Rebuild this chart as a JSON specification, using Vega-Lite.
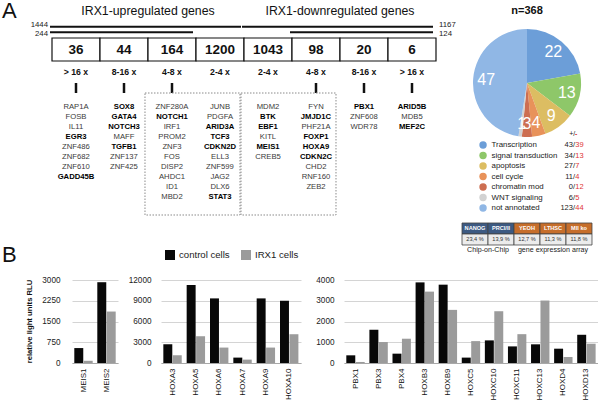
{
"$schema": "https://vega.github.io/schema/vega-lite/v6.json",
"padding": 0,
"background": "white",
"config": {"view": {"stroke": null}, "font": "'Liberation Sans', Arial, sans-serif"},
"datasets": {
 "panels": [{"panel": "A"}, {"panel": "B"}],
 "groups": [{"title": "IRX1-upregulated genes", "at": 2}, {"title": "IRX1-downregulated genes", "at": 6}],
 "lines": [
  {"label": "1444", "from": 0, "to": 4, "level": "all", "side": "left"},
  {"label": "244", "from": 0, "to": 3, "level": "sub", "side": "left"},
  {"label": "1167", "from": 4, "to": 8, "level": "all", "side": "right"},
  {"label": "124", "from": 5, "to": 8, "level": "sub", "side": "right"}],
 "bins": [
  {"bin": "up>16", "n": "36", "fold": "> 16 x"}, {"bin": "up8-16", "n": "44", "fold": "8-16 x"},
  {"bin": "up4-8", "n": "164", "fold": "4-8 x"}, {"bin": "up2-4", "n": "1200", "fold": "2-4 x"},
  {"bin": "down2-4", "n": "1043", "fold": "2-4 x"}, {"bin": "down4-8", "n": "98", "fold": "4-8 x"},
  {"bin": "down8-16", "n": "20", "fold": "8-16 x"}, {"bin": "down>16", "n": "6", "fold": "> 16 x"}],
 "boxes": [{"from": 2, "to": 4}, {"from": 4, "to": 6}],
 "genes": [
  {"bin": "up>16", "rank": 1, "gene": "RAP1A", "bold": false}, {"bin": "up>16", "rank": 2, "gene": "FOSB", "bold": false},
  {"bin": "up>16", "rank": 3, "gene": "IL11", "bold": false}, {"bin": "up>16", "rank": 4, "gene": "EGR3", "bold": true},
  {"bin": "up>16", "rank": 5, "gene": "ZNF486", "bold": false}, {"bin": "up>16", "rank": 6, "gene": "ZNF682", "bold": false},
  {"bin": "up>16", "rank": 7, "gene": "ZNF610", "bold": false}, {"bin": "up>16", "rank": 8, "gene": "GADD45B", "bold": true},
  {"bin": "up8-16", "rank": 1, "gene": "SOX8", "bold": true}, {"bin": "up8-16", "rank": 2, "gene": "GATA4", "bold": true},
  {"bin": "up8-16", "rank": 3, "gene": "NOTCH3", "bold": true}, {"bin": "up8-16", "rank": 4, "gene": "MAFF", "bold": false},
  {"bin": "up8-16", "rank": 5, "gene": "TGFB1", "bold": true}, {"bin": "up8-16", "rank": 6, "gene": "ZNF137", "bold": false},
  {"bin": "up8-16", "rank": 7, "gene": "ZNF425", "bold": false},
  {"bin": "up4-8", "rank": 1, "gene": "ZNF280A", "bold": false}, {"bin": "up4-8", "rank": 2, "gene": "NOTCH1", "bold": true},
  {"bin": "up4-8", "rank": 3, "gene": "IRF1", "bold": false}, {"bin": "up4-8", "rank": 4, "gene": "PROM2", "bold": false},
  {"bin": "up4-8", "rank": 5, "gene": "ZNF3", "bold": false}, {"bin": "up4-8", "rank": 6, "gene": "FOS", "bold": false},
  {"bin": "up4-8", "rank": 7, "gene": "DISP2", "bold": false}, {"bin": "up4-8", "rank": 8, "gene": "AHDC1", "bold": false},
  {"bin": "up4-8", "rank": 9, "gene": "ID1", "bold": false}, {"bin": "up4-8", "rank": 10, "gene": "MBD2", "bold": false},
  {"bin": "up2-4", "rank": 1, "gene": "JUNB", "bold": false}, {"bin": "up2-4", "rank": 2, "gene": "PDGFA", "bold": false},
  {"bin": "up2-4", "rank": 3, "gene": "ARID3A", "bold": true}, {"bin": "up2-4", "rank": 4, "gene": "TCF3", "bold": true},
  {"bin": "up2-4", "rank": 5, "gene": "CDKN2D", "bold": true}, {"bin": "up2-4", "rank": 6, "gene": "ELL3", "bold": false},
  {"bin": "up2-4", "rank": 7, "gene": "ZNF599", "bold": false}, {"bin": "up2-4", "rank": 8, "gene": "JAG2", "bold": false},
  {"bin": "up2-4", "rank": 9, "gene": "DLX6", "bold": false}, {"bin": "up2-4", "rank": 10, "gene": "STAT3", "bold": true},
  {"bin": "down2-4", "rank": 1, "gene": "MDM2", "bold": false}, {"bin": "down2-4", "rank": 2, "gene": "BTK", "bold": true},
  {"bin": "down2-4", "rank": 3, "gene": "EBF1", "bold": true}, {"bin": "down2-4", "rank": 4, "gene": "KITL", "bold": false},
  {"bin": "down2-4", "rank": 5, "gene": "MEIS1", "bold": true}, {"bin": "down2-4", "rank": 6, "gene": "CREB5", "bold": false},
  {"bin": "down4-8", "rank": 1, "gene": "FYN", "bold": false}, {"bin": "down4-8", "rank": 2, "gene": "JMJD1C", "bold": true},
  {"bin": "down4-8", "rank": 3, "gene": "PHF21A", "bold": false}, {"bin": "down4-8", "rank": 4, "gene": "FOXP1", "bold": true},
  {"bin": "down4-8", "rank": 5, "gene": "HOXA9", "bold": true}, {"bin": "down4-8", "rank": 6, "gene": "CDKN2C", "bold": true},
  {"bin": "down4-8", "rank": 7, "gene": "CHD2", "bold": false}, {"bin": "down4-8", "rank": 8, "gene": "RNF160", "bold": false},
  {"bin": "down4-8", "rank": 9, "gene": "ZEB2", "bold": false},
  {"bin": "down8-16", "rank": 1, "gene": "PBX1", "bold": true}, {"bin": "down8-16", "rank": 2, "gene": "ZNF608", "bold": false},
  {"bin": "down8-16", "rank": 3, "gene": "WDR78", "bold": false},
  {"bin": "down>16", "rank": 1, "gene": "ARID5B", "bold": true}, {"bin": "down>16", "rank": 2, "gene": "MDB5", "bold": false},
  {"bin": "down>16", "rank": 3, "gene": "MEF2C", "bold": true}],
 "series": [{"series": "control cells"}, {"series": "IRX1 cells"}],
 "ntotal": [{"label": "n=368"}],
 "pie": [
  {"cat": "Transcription", "pct": 22, "k": 1, "plus": "43", "minus": "39"},
  {"cat": "signal transduction", "pct": 13, "k": 2, "plus": "34", "minus": "13"},
  {"cat": "apoptosis", "pct": 9, "k": 3, "plus": "27", "minus": "7"},
  {"cat": "cell cycle", "pct": 4, "k": 4, "plus": "11", "minus": "4"},
  {"cat": "chromatin mod", "pct": 3, "k": 5, "plus": "0", "minus": "12"},
  {"cat": "WNT signaling", "pct": 1, "k": 6, "plus": "6", "minus": "5"},
  {"cat": "not annotated", "pct": 47, "k": 7, "plus": "123", "minus": "44"}],
 "hdr": [{"plus": "+", "minus": "-"}],
 "table": [
  {"col": "NANOG", "val": "23,4 %", "platform": "Chip-on-Chip"},
  {"col": "PRCI/II", "val": "13,9 %", "platform": "Chip-on-Chip"},
  {"col": "YEOH", "val": "12,7 %", "platform": "gene expression array"},
  {"col": "LTHSC", "val": "11,3 %", "platform": "gene expression array"},
  {"col": "Mll ko", "val": "11,8 %", "platform": "gene expression array"}],
 "ylabel": [{"t": "relative light units RLU"}],
 "rlu": [
  {"chart": 1, "gene": "MEIS1", "series": "control cells", "value": 540}, {"chart": 1, "gene": "MEIS1", "series": "IRX1 cells", "value": 80},
  {"chart": 1, "gene": "MEIS2", "series": "control cells", "value": 2920}, {"chart": 1, "gene": "MEIS2", "series": "IRX1 cells", "value": 1860},
  {"chart": 2, "gene": "HOXA3", "series": "control cells", "value": 2710}, {"chart": 2, "gene": "HOXA3", "series": "IRX1 cells", "value": 1120},
  {"chart": 2, "gene": "HOXA5", "series": "control cells", "value": 11270}, {"chart": 2, "gene": "HOXA5", "series": "IRX1 cells", "value": 3870},
  {"chart": 2, "gene": "HOXA6", "series": "control cells", "value": 9340}, {"chart": 2, "gene": "HOXA6", "series": "IRX1 cells", "value": 2230},
  {"chart": 2, "gene": "HOXA7", "series": "control cells", "value": 780}, {"chart": 2, "gene": "HOXA7", "series": "IRX1 cells", "value": 490},
  {"chart": 2, "gene": "HOXA9", "series": "control cells", "value": 9340}, {"chart": 2, "gene": "HOXA9", "series": "IRX1 cells", "value": 2230},
  {"chart": 2, "gene": "HOXA10", "series": "control cells", "value": 9000}, {"chart": 2, "gene": "HOXA10", "series": "IRX1 cells", "value": 4160},
  {"chart": 3, "gene": "PBX1", "series": "control cells", "value": 370}, {"chart": 3, "gene": "PBX1", "series": "IRX1 cells", "value": 50},
  {"chart": 3, "gene": "PBX3", "series": "control cells", "value": 1600}, {"chart": 3, "gene": "PBX3", "series": "IRX1 cells", "value": 1010},
  {"chart": 3, "gene": "PBX4", "series": "control cells", "value": 450}, {"chart": 3, "gene": "PBX4", "series": "IRX1 cells", "value": 1170},
  {"chart": 3, "gene": "HOXB3", "series": "control cells", "value": 3885}, {"chart": 3, "gene": "HOXB3", "series": "IRX1 cells", "value": 3440},
  {"chart": 3, "gene": "HOXB9", "series": "control cells", "value": 3775}, {"chart": 3, "gene": "HOXB9", "series": "IRX1 cells", "value": 2560},
  {"chart": 3, "gene": "HOXC5", "series": "control cells", "value": 260}, {"chart": 3, "gene": "HOXC5", "series": "IRX1 cells", "value": 1055},
  {"chart": 3, "gene": "HOXC10", "series": "control cells", "value": 1090}, {"chart": 3, "gene": "HOXC10", "series": "IRX1 cells", "value": 2495},
  {"chart": 3, "gene": "HOXC11", "series": "control cells", "value": 800}, {"chart": 3, "gene": "HOXC11", "series": "IRX1 cells", "value": 1390},
  {"chart": 3, "gene": "HOXC13", "series": "control cells", "value": 900}, {"chart": 3, "gene": "HOXC13", "series": "IRX1 cells", "value": 3010},
  {"chart": 3, "gene": "HOXD4", "series": "control cells", "value": 690}, {"chart": 3, "gene": "HOXD4", "series": "IRX1 cells", "value": 290},
  {"chart": 3, "gene": "HOXD13", "series": "control cells", "value": 1360}, {"chart": 3, "gene": "HOXD13", "series": "IRX1 cells", "value": 930}]
},
"resolve": {"scale": {"color": "independent"}},
"spacing": 9,
"vconcat": [
 {
  "spacing": 0,
  "resolve": {"scale": {"color": "independent"}},
  "hconcat": [
   {
    "spacing": 0,
    "bounds": "flush",
    "resolve": {"scale": {"color": "independent"}},
    "vconcat": [
     {
      "width": 460, "height": 20,
      "layer": [
       {
        "data": {"name": "panels"},
        "transform": [{"filter": "datum.panel === 'A'"}],
        "mark": {"type": "text", "fontSize": 22, "align": "left", "baseline": "middle", "color": "#111"},
        "encoding": {
         "x": {"datum": -1.04, "type": "quantitative", "scale": {"domain": [-1.0833, 8.5], "zero": false, "nice": false}, "axis": null},
         "text": {"field": "panel"}
        }
       },
       {
        "data": {"name": "groups"},
        "mark": {"type": "text", "fontSize": 12.3, "baseline": "middle", "color": "#111"},
        "encoding": {
         "x": {"field": "at", "type": "quantitative"},
         "text": {"field": "title"}
        }
       }
      ]
     },
     {
      "width": 460, "height": 17,
      "data": {"name": "lines"},
      "encoding": {
       "y": {"field": "level", "type": "nominal", "scale": {"type": "point", "domain": ["all", "sub"], "padding": 1.625}, "axis": null}
      },
      "layer": [
       {
        "mark": {"type": "rule", "strokeWidth": 2, "color": "#111", "xOffset": -2, "x2Offset": -3},
        "encoding": {
         "x": {"field": "from", "type": "quantitative", "scale": {"domain": [-1.0833, 8.5], "zero": false, "nice": false}, "axis": null},
         "x2": {"field": "to"}
        }
       },
       {
        "transform": [{"filter": "datum.side === 'left' && datum.level === 'all'"}],
        "mark": {"type": "text", "align": "right", "baseline": "middle", "dx": -4, "yOffset": -1.5, "fontSize": 7.8, "color": "#222"},
        "encoding": {"x": {"field": "from", "type": "quantitative"}, "text": {"field": "label"}}
       },
       {
        "transform": [{"filter": "datum.side === 'left' && datum.level === 'sub'"}],
        "mark": {"type": "text", "align": "right", "baseline": "middle", "dx": -4, "yOffset": 2, "fontSize": 7.8, "color": "#222"},
        "encoding": {"x": {"field": "from", "type": "quantitative"}, "text": {"field": "label"}}
       },
       {
        "transform": [{"filter": "datum.side === 'right' && datum.level === 'all'"}],
        "mark": {"type": "text", "align": "left", "baseline": "middle", "dx": 3, "yOffset": -1.5, "fontSize": 7.8, "color": "#222"},
        "encoding": {"x": {"field": "to", "type": "quantitative"}, "text": {"field": "label"}}
       },
       {
        "transform": [{"filter": "datum.side === 'right' && datum.level === 'sub'"}],
        "mark": {"type": "text", "align": "left", "baseline": "middle", "dx": 3, "yOffset": 2, "fontSize": 7.8, "color": "#222"},
        "encoding": {"x": {"field": "to", "type": "quantitative"}, "text": {"field": "label"}}
       }
      ]
     },
     {
      "width": 460, "height": 23,
      "data": {"name": "bins"},
      "encoding": {
       "x": {"field": "bin", "type": "nominal", "sort": null, "scale": {"type": "band", "paddingInner": 0, "paddingOuter": 0.7917, "align": 0.6842}, "axis": null}
      },
      "layer": [
       {"mark": {"type": "rect", "fill": "white", "stroke": "#111", "strokeWidth": 1.2}},
       {"mark": {"type": "text", "fontSize": 13.5, "fontWeight": "bold", "baseline": "middle", "color": "#111"}, "encoding": {"text": {"field": "n"}}}
      ]
     },
     {
      "width": 460, "height": 22,
      "data": {"name": "bins"},
      "mark": {"type": "text", "fontSize": 8.7, "fontWeight": "bold", "baseline": "middle", "color": "#111"},
      "encoding": {
       "x": {"field": "bin", "type": "nominal", "sort": null, "scale": {"type": "band", "paddingInner": 0, "paddingOuter": 0.7917, "align": 0.6842}, "axis": null},
       "text": {"field": "fold"}
      }
     },
     {
      "width": 460, "height": 10,
      "data": {"name": "bins"},
      "transform": [{"filter": "datum.fold !== '2-4 x'"}],
      "mark": {"type": "rule", "strokeWidth": 2.5, "color": "#111"},
      "encoding": {
       "x": {"field": "bin", "type": "nominal", "sort": null, "scale": {"type": "band", "domain": ["up>16","up8-16","up4-8","up2-4","down2-4","down4-8","down8-16","down>16"], "paddingInner": 0, "paddingOuter": 0.7917, "align": 0.6842}, "axis": null}
      }
     },
     {
      "width": 460, "height": 122,
      "resolve": {"scale": {"x": "independent"}},
      "layer": [
       {
        "data": {"name": "boxes"},
        "mark": {"type": "rect", "filled": false, "color": "#8a8a8a", "strokeWidth": 1, "strokeDash": [1.5, 1.5], "xOffset": -3, "x2Offset": -4},
        "encoding": {
         "x": {"field": "from", "type": "quantitative", "scale": {"domain": [-1.0833, 8.5], "zero": false, "nice": false}, "axis": null},
         "x2": {"field": "to"}
        }
       },
       {
        "data": {"name": "genes"},
        "layer": [
         {
          "transform": [{"filter": "!datum.bold"}],
          "mark": {"type": "text", "fontSize": 7.7, "baseline": "middle", "color": "#3a3a3a"},
          "encoding": {
           "x": {"field": "bin", "type": "nominal", "scale": {"type": "band", "domain": ["up>16","up8-16","up4-8","up2-4","down2-4","down4-8","down8-16","down>16"], "paddingInner": 0, "paddingOuter": 0.7917, "align": 0.6842}, "axis": null},
           "y": {"field": "rank", "type": "quantitative", "scale": {"domain": [-0.4, 11.8], "reverse": true, "zero": false, "nice": false}, "axis": null},
           "text": {"field": "gene"}
          }
         },
         {
          "transform": [{"filter": "datum.bold"}],
          "mark": {"type": "text", "fontSize": 7.7, "fontWeight": "bold", "baseline": "middle", "color": "#000"},
          "encoding": {
           "x": {"field": "bin", "type": "nominal"},
           "y": {"field": "rank", "type": "quantitative"},
           "text": {"field": "gene"}
          }
         }
        ]
       }
      ]
     },
     {
      "width": 460, "height": 50,
      "resolve": {"scale": {"x": "independent"}},
      "layer": [
       {
        "data": {"name": "panels"},
        "transform": [{"filter": "datum.panel === 'B'"}],
        "mark": {"type": "text", "fontSize": 22, "align": "left", "baseline": "middle", "yOffset": 15, "color": "#111"},
        "encoding": {
         "x": {"datum": -1.04, "type": "quantitative", "scale": {"domain": [-1.0833, 8.5], "zero": false, "nice": false}, "axis": null},
         "text": {"field": "panel"}
        }
       },
       {
        "data": {"name": "series"},
        "encoding": {
         "x": {"field": "series", "type": "nominal", "sort": null, "scale": {"type": "point", "domain": ["control cells", "IRX1 cells"], "range": [170, 246], "padding": 0}, "axis": null}
        },
        "layer": [
         {
          "mark": {"type": "point", "shape": "square", "filled": true, "size": 100, "opacity": 1, "yOffset": 15},
          "encoding": {"color": {"field": "series", "type": "nominal", "scale": {"domain": ["control cells", "IRX1 cells"], "range": ["#080808", "#9b9b9b"]}, "legend": null}}
         },
         {
          "mark": {"type": "text", "align": "left", "baseline": "middle", "dx": 9, "yOffset": 15, "fontSize": 9.6, "color": "#222"},
          "encoding": {"text": {"field": "series"}}
         }
        ]
       }
      ]
     }
    ]
   },
   {
    "spacing": 0,
    "bounds": "flush",
    "resolve": {"scale": {"color": "independent"}},
    "vconcat": [
     {
      "width": 134, "height": 20,
      "data": {"name": "ntotal"},
      "mark": {"type": "text", "fontSize": 11, "fontWeight": "bold", "baseline": "middle", "color": "#111"},
      "encoding": {"text": {"field": "label"}}
     },
     {
      "width": 134, "height": 124,
      "data": {"name": "pie"},
      "encoding": {
       "theta": {"field": "pct", "type": "quantitative", "stack": true},
       "order": {"field": "k", "type": "quantitative"}
      },
      "layer": [
       {
        "mark": {"type": "arc", "outerRadius": 54},
        "encoding": {"color": {"field": "cat", "type": "nominal", "scale": {"domain": ["Transcription","signal transduction","apoptosis","cell cycle","chromatin mod","WNT signaling","not annotated"], "range": ["#6c9ed8","#8ec769","#dcbd62","#e8925a","#cd6e51","#d2d2d2","#90b7e5"]}, "legend": null}}
       },
       {
        "mark": {"type": "text", "radius": 41, "fontSize": 16, "color": "white"},
        "encoding": {"text": {"field": "pct", "type": "nominal"}, "detail": {"field": "cat", "type": "nominal"}}
       }
      ]
     },
     {
      "width": 134, "height": 63,
      "layer": [
       {
        "data": {"name": "pie"},
        "mark": {"type": "point", "filled": true, "size": 55, "opacity": 1},
        "encoding": {
         "x": {"datum": 0.172, "type": "quantitative", "scale": {"domain": [0, 1]}, "axis": null},
         "y": {"field": "cat", "type": "nominal", "sort": null, "scale": {"type": "point", "domain": ["Transcription","signal transduction","apoptosis","cell cycle","chromatin mod","WNT signaling","not annotated"], "padding": 0}, "axis": null},
         "color": {"field": "cat", "type": "nominal", "scale": {"domain": ["Transcription","signal transduction","apoptosis","cell cycle","chromatin mod","WNT signaling","not annotated"], "range": ["#6c9ed8","#8ec769","#dcbd62","#e8925a","#cd6e51","#d2d2d2","#90b7e5"]}, "legend": null}
        }
       },
       {
        "data": {"name": "pie"},
        "mark": {"type": "text", "align": "left", "baseline": "middle", "fontSize": 7.9, "color": "#222"},
        "encoding": {"x": {"datum": 0.235, "type": "quantitative"}, "y": {"field": "cat", "type": "nominal"}, "text": {"field": "cat"}}
       },
       {
        "data": {"name": "pie"},
        "mark": {"type": "text", "align": "right", "baseline": "middle", "fontSize": 7.5, "color": "#222"},
        "encoding": {"x": {"datum": 0.843, "type": "quantitative"}, "y": {"field": "cat", "type": "nominal"}, "text": {"field": "plus"}}
       },
       {
        "data": {"name": "pie"},
        "mark": {"type": "text", "text": "/", "align": "center", "baseline": "middle", "fontSize": 7.5, "color": "#222"},
        "encoding": {"x": {"datum": 0.852, "type": "quantitative"}, "y": {"field": "cat", "type": "nominal"}}
       },
       {
        "data": {"name": "pie"},
        "mark": {"type": "text", "align": "left", "baseline": "middle", "fontSize": 7.5, "color": "#e03535"},
        "encoding": {"x": {"datum": 0.861, "type": "quantitative"}, "y": {"field": "cat", "type": "nominal"}, "text": {"field": "minus"}}
       },
       {
        "data": {"name": "hdr"},
        "mark": {"type": "text", "align": "right", "baseline": "middle", "fontSize": 7, "yOffset": -11, "color": "#222"},
        "encoding": {"x": {"datum": 0.845, "type": "quantitative"}, "y": {"datum": "Transcription", "type": "nominal"}, "text": {"field": "plus"}}
       },
       {
        "data": {"name": "hdr"},
        "mark": {"type": "text", "text": "/", "align": "center", "baseline": "middle", "fontSize": 7, "yOffset": -11, "color": "#222"},
        "encoding": {"x": {"datum": 0.852, "type": "quantitative"}, "y": {"datum": "Transcription", "type": "nominal"}}
       },
       {
        "data": {"name": "hdr"},
        "mark": {"type": "text", "align": "left", "baseline": "middle", "fontSize": 7, "fontWeight": "bold", "yOffset": -11, "color": "#e03535"},
        "encoding": {"x": {"datum": 0.859, "type": "quantitative"}, "y": {"datum": "Transcription", "type": "nominal"}, "text": {"field": "minus"}}
       }
      ]
     },
     {
      "width": 134, "height": 51,
      "data": {"name": "table"},
      "layer": [
       {
        "mark": {"type": "rect", "stroke": "#444", "strokeWidth": 0.8},
        "encoding": {
         "x": {"field": "col", "type": "nominal", "sort": null, "scale": {"type": "band", "paddingInner": 0, "paddingOuter": 0.077}, "axis": null},
         "y": {"datum": "header", "type": "nominal", "scale": {"type": "band", "domain": ["header", "value", "caption"], "paddingInner": 0, "paddingOuter": 0.818, "align": 0.833}, "axis": null},
         "color": {"field": "platform", "type": "nominal", "scale": {"domain": ["Chip-on-Chip", "gene expression array"], "range": ["#3d5a82", "#c66e2b"]}, "legend": null}
        }
       },
       {
        "mark": {"type": "rect", "fill": "#ececec", "stroke": "#444", "strokeWidth": 0.8},
        "encoding": {"x": {"field": "col", "type": "nominal", "sort": null}, "y": {"datum": "value", "type": "nominal"}}
       },
       {
        "mark": {"type": "text", "fontSize": 5.6, "fontWeight": "bold", "color": "white", "baseline": "middle"},
        "encoding": {"x": {"field": "col", "type": "nominal", "sort": null}, "y": {"datum": "header", "type": "nominal"}, "text": {"field": "col"}}
       },
       {
        "mark": {"type": "text", "fontSize": 5.6, "color": "#333", "baseline": "middle"},
        "encoding": {"x": {"field": "col", "type": "nominal", "sort": null}, "y": {"datum": "value", "type": "nominal"}, "text": {"field": "val"}}
       },
       {
        "transform": [{"filter": "datum.col === 'PRCI/II'"}],
        "mark": {"type": "text", "fontSize": 7.1, "color": "#222", "baseline": "middle"},
        "encoding": {"x": {"field": "col", "type": "nominal", "sort": null, "bandPosition": 0}, "y": {"datum": "caption", "type": "nominal"}, "text": {"field": "platform"}}
       },
       {
        "transform": [{"filter": "datum.col === 'LTHSC'"}],
        "mark": {"type": "text", "fontSize": 7.1, "color": "#222", "baseline": "middle"},
        "encoding": {"x": {"field": "col", "type": "nominal", "sort": null}, "y": {"datum": "caption", "type": "nominal"}, "text": {"field": "platform"}}
       }
      ]
     }
    ]
   }
  ]
 },
 {
  "spacing": 43,
  "bounds": "flush",
  "hconcat": [
   {
    "width": 29, "height": 83,
    "data": {"name": "ylabel"},
    "mark": {"type": "text", "angle": 270, "align": "center", "baseline": "middle", "dy": 15, "fontSize": 7.7, "fontWeight": "bold", "color": "#111"},
    "encoding": {"text": {"field": "t"}}
   },
   {
    "width": 46, "height": 83,
    "data": {"name": "rlu"},
    "transform": [{"filter": "datum.chart === 1"}],
    "mark": {"type": "bar"},
    "encoding": {
     "x": {"field": "gene", "type": "nominal", "sort": null, "scale": {"paddingInner": 0.2, "paddingOuter": 0.1}, "axis": {"title": null, "labelAngle": -90, "ticks": false, "domainColor": "#a8a8a8", "domainWidth": 1.2, "labelPadding": 5, "labelFontSize": 8, "labelColor": "#111"}},
     "xOffset": {"field": "series", "type": "nominal", "sort": ["control cells", "IRX1 cells"], "scale": {"paddingInner": 0.05}},
     "y": {"field": "value", "type": "quantitative", "scale": {"domain": [0, 3000], "nice": false}, "axis": {"title": null, "values": [0, 750, 1500, 2250, 3000], "format": "d", "domain": false, "ticks": false, "labelPadding": 12, "gridColor": "#d4d4d4", "labelFontSize": 8.2, "labelColor": "#222"}},
     "color": {"field": "series", "type": "nominal", "scale": {"domain": ["control cells", "IRX1 cells"], "range": ["#080808", "#9b9b9b"]}, "legend": null}
    }
   },
   {
    "width": 140, "height": 83,
    "data": {"name": "rlu"},
    "transform": [{"filter": "datum.chart === 2"}],
    "mark": {"type": "bar"},
    "encoding": {
     "x": {"field": "gene", "type": "nominal", "sort": null, "scale": {"paddingInner": 0.2, "paddingOuter": 0.1}, "axis": {"title": null, "labelAngle": -90, "ticks": false, "domainColor": "#a8a8a8", "domainWidth": 1.2, "labelPadding": 5, "labelFontSize": 8, "labelColor": "#111"}},
     "xOffset": {"field": "series", "type": "nominal", "sort": ["control cells", "IRX1 cells"], "scale": {"paddingInner": 0.05}},
     "y": {"field": "value", "type": "quantitative", "scale": {"domain": [0, 12000], "nice": false}, "axis": {"title": null, "values": [0, 3000, 6000, 9000, 12000], "format": "d", "domain": false, "ticks": false, "labelPadding": 10, "gridColor": "#d4d4d4", "labelFontSize": 8.2, "labelColor": "#222"}},
     "color": {"field": "series", "type": "nominal", "scale": {"domain": ["control cells", "IRX1 cells"], "range": ["#080808", "#9b9b9b"]}, "legend": null}
    }
   },
   {
    "width": 254, "height": 83,
    "data": {"name": "rlu"},
    "transform": [{"filter": "datum.chart === 3"}],
    "mark": {"type": "bar"},
    "encoding": {
     "x": {"field": "gene", "type": "nominal", "sort": null, "scale": {"paddingInner": 0.2, "paddingOuter": 0.1}, "axis": {"title": null, "labelAngle": -90, "ticks": false, "domainColor": "#a8a8a8", "domainWidth": 1.2, "labelPadding": 5, "labelFontSize": 8, "labelColor": "#111"}},
     "xOffset": {"field": "series", "type": "nominal", "sort": ["control cells", "IRX1 cells"], "scale": {"paddingInner": 0.05}},
     "y": {"field": "value", "type": "quantitative", "scale": {"domain": [0, 4000], "nice": false}, "axis": {"title": null, "values": [0, 1000, 2000, 3000, 4000], "format": "d", "domain": false, "ticks": false, "labelPadding": 10, "gridColor": "#d4d4d4", "labelFontSize": 8.2, "labelColor": "#222"}},
     "color": {"field": "series", "type": "nominal", "scale": {"domain": ["control cells", "IRX1 cells"], "range": ["#080808", "#9b9b9b"]}, "legend": null}
    }
   }
  ]
 }
]
}
